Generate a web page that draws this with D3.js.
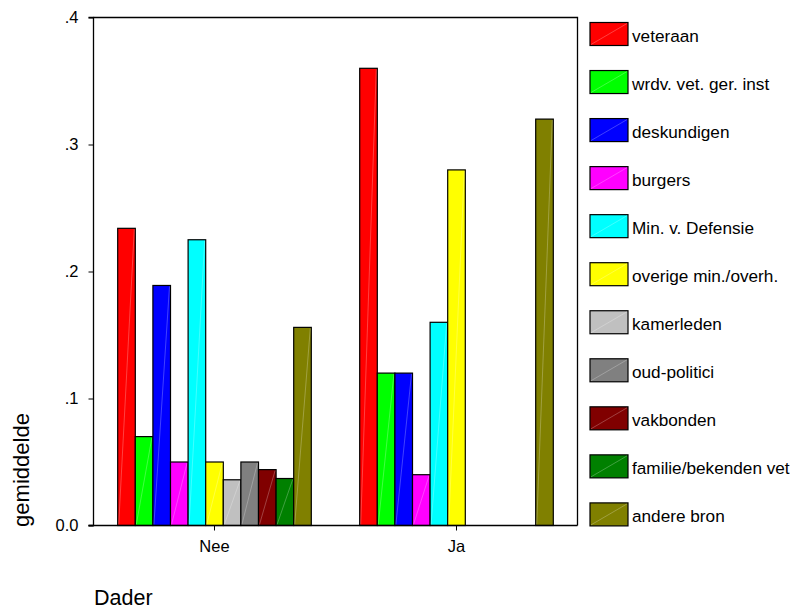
<!DOCTYPE html>
<html><head><meta charset="utf-8">
<script src="https://cdn.jsdelivr.net/npm/d3@7"></script>
<style>body{margin:0;background:#fff}svg{display:block;font-family:"Liberation Sans",Arial,sans-serif}</style>
</head><body><svg id="c" width="794" height="610"></svg>
<script>
const categories = ["Nee", "Ja"];
const seriesNames = ["veteraan","wrdv. vet. ger. inst","deskundigen","burgers","Min. v. Defensie","overige min./overh.","kamerleden","oud-politici","vakbonden","familie/bekenden vet","andere bron"];
const colors = ["#ff0000","#00ff00","#0000ff","#ff00ff","#00ffff","#ffff00","#c0c0c0","#808080","#800000","#008000","#808000"];
const valuesNee = [0.234,0.070,0.189,0.050,0.225,0.050,0.036,0.050,0.044,0.037,0.156];
const valuesJa  = [0.360,0.120,0.120,0.040,0.160,0.280,0.000,0.000,0.000,0.000,0.320];
const yTicks = [0,0.1,0.2,0.3,0.4];
const yTickLabels = ["0.0",".1",".2",".3",".4"];

const svg = d3.select("#c");
const L=93.5, R=577.5, T=17.5, B=525.5;
const x0 = d3.scaleBand().domain(categories).range([L,R]).padding(0);
const bw = x0.bandwidth();
const x1 = d3.scaleBand().domain(seriesNames).range([bw*0.1, bw*0.9]).padding(0);
const y = d3.scaleLinear().domain([0,0.4]).range([B,T]);

const data = categories.map((c,i)=>({cat:c, vals:(i===0?valuesNee:valuesJa)}));

svg.append("path").attr("d",`M${L},${T}H${R}V${B}`).attr("fill","none").attr("stroke","#000").attr("stroke-width",1.3);

const g = svg.selectAll("g.grp").data(data).join("g").attr("transform",d=>`translate(${x0(d.cat)},0)`);
g.each(function(d){
  const sel = d3.select(this);
  d.vals.forEach((v,i)=>{
    const xx = x1(seriesNames[i]), w = x1.bandwidth(), yy = y(v), h = B - y(v);
    sel.append("rect").attr("x",xx).attr("y",yy).attr("width",w).attr("height",h)
      .attr("fill",colors[i]).attr("stroke","#000").attr("stroke-width",1.2);
    if(h>2) sel.append("line").attr("x1",xx+1).attr("y1",B-1).attr("x2",xx+w-1).attr("y2",yy+1)
      .attr("stroke","#fff").attr("stroke-opacity",0.25).attr("stroke-width",1);
  });
});

const yAxis = d3.axisLeft(y).tickValues(yTicks).tickFormat((d,i)=>yTickLabels[i]).tickSize(5).tickPadding(10);
const ya = svg.append("g").attr("transform",`translate(${L},0)`).call(yAxis);
ya.select(".domain").attr("stroke-width",1.3).attr("d",`M-5,${B}H0V${T}H-5`);
ya.selectAll("text").attr("font-size",16.5).attr("fill","#000").attr("font-family","Liberation Sans, Arial, sans-serif");

const xAxis = d3.axisBottom(x0).tickSize(5).tickSizeOuter(0).tickPadding(10);
const xa = svg.append("g").attr("transform",`translate(0,${B})`).call(xAxis);
xa.select(".domain").attr("stroke-width",1.3).attr("d",`M${L-5},0H${R}`);
xa.selectAll("text").attr("font-size",16.5).attr("fill","#000").attr("font-family","Liberation Sans, Arial, sans-serif");

svg.append("text").attr("transform","translate(29,470) rotate(-90)").attr("text-anchor","middle")
  .attr("font-size",22).text("gemiddelde");
svg.append("text").attr("x",94).attr("y",605).attr("font-size",21.5).text("Dader");

const lg = svg.append("g");
seriesNames.forEach((n,i)=>{
  const ty = 22.5 + i*48.04;
  lg.append("rect").attr("x",590).attr("y",ty).attr("width",38).attr("height",23)
    .attr("fill",colors[i]).attr("stroke","#000").attr("stroke-width",1.2);
  lg.append("line").attr("x1",591).attr("y1",ty+22).attr("x2",627).attr("y2",ty+1)
    .attr("stroke","#fff").attr("stroke-opacity",0.25);
  lg.append("text").attr("x",632).attr("y",ty+19).attr("font-size",17.2).text(n);
});
</script></body></html>
